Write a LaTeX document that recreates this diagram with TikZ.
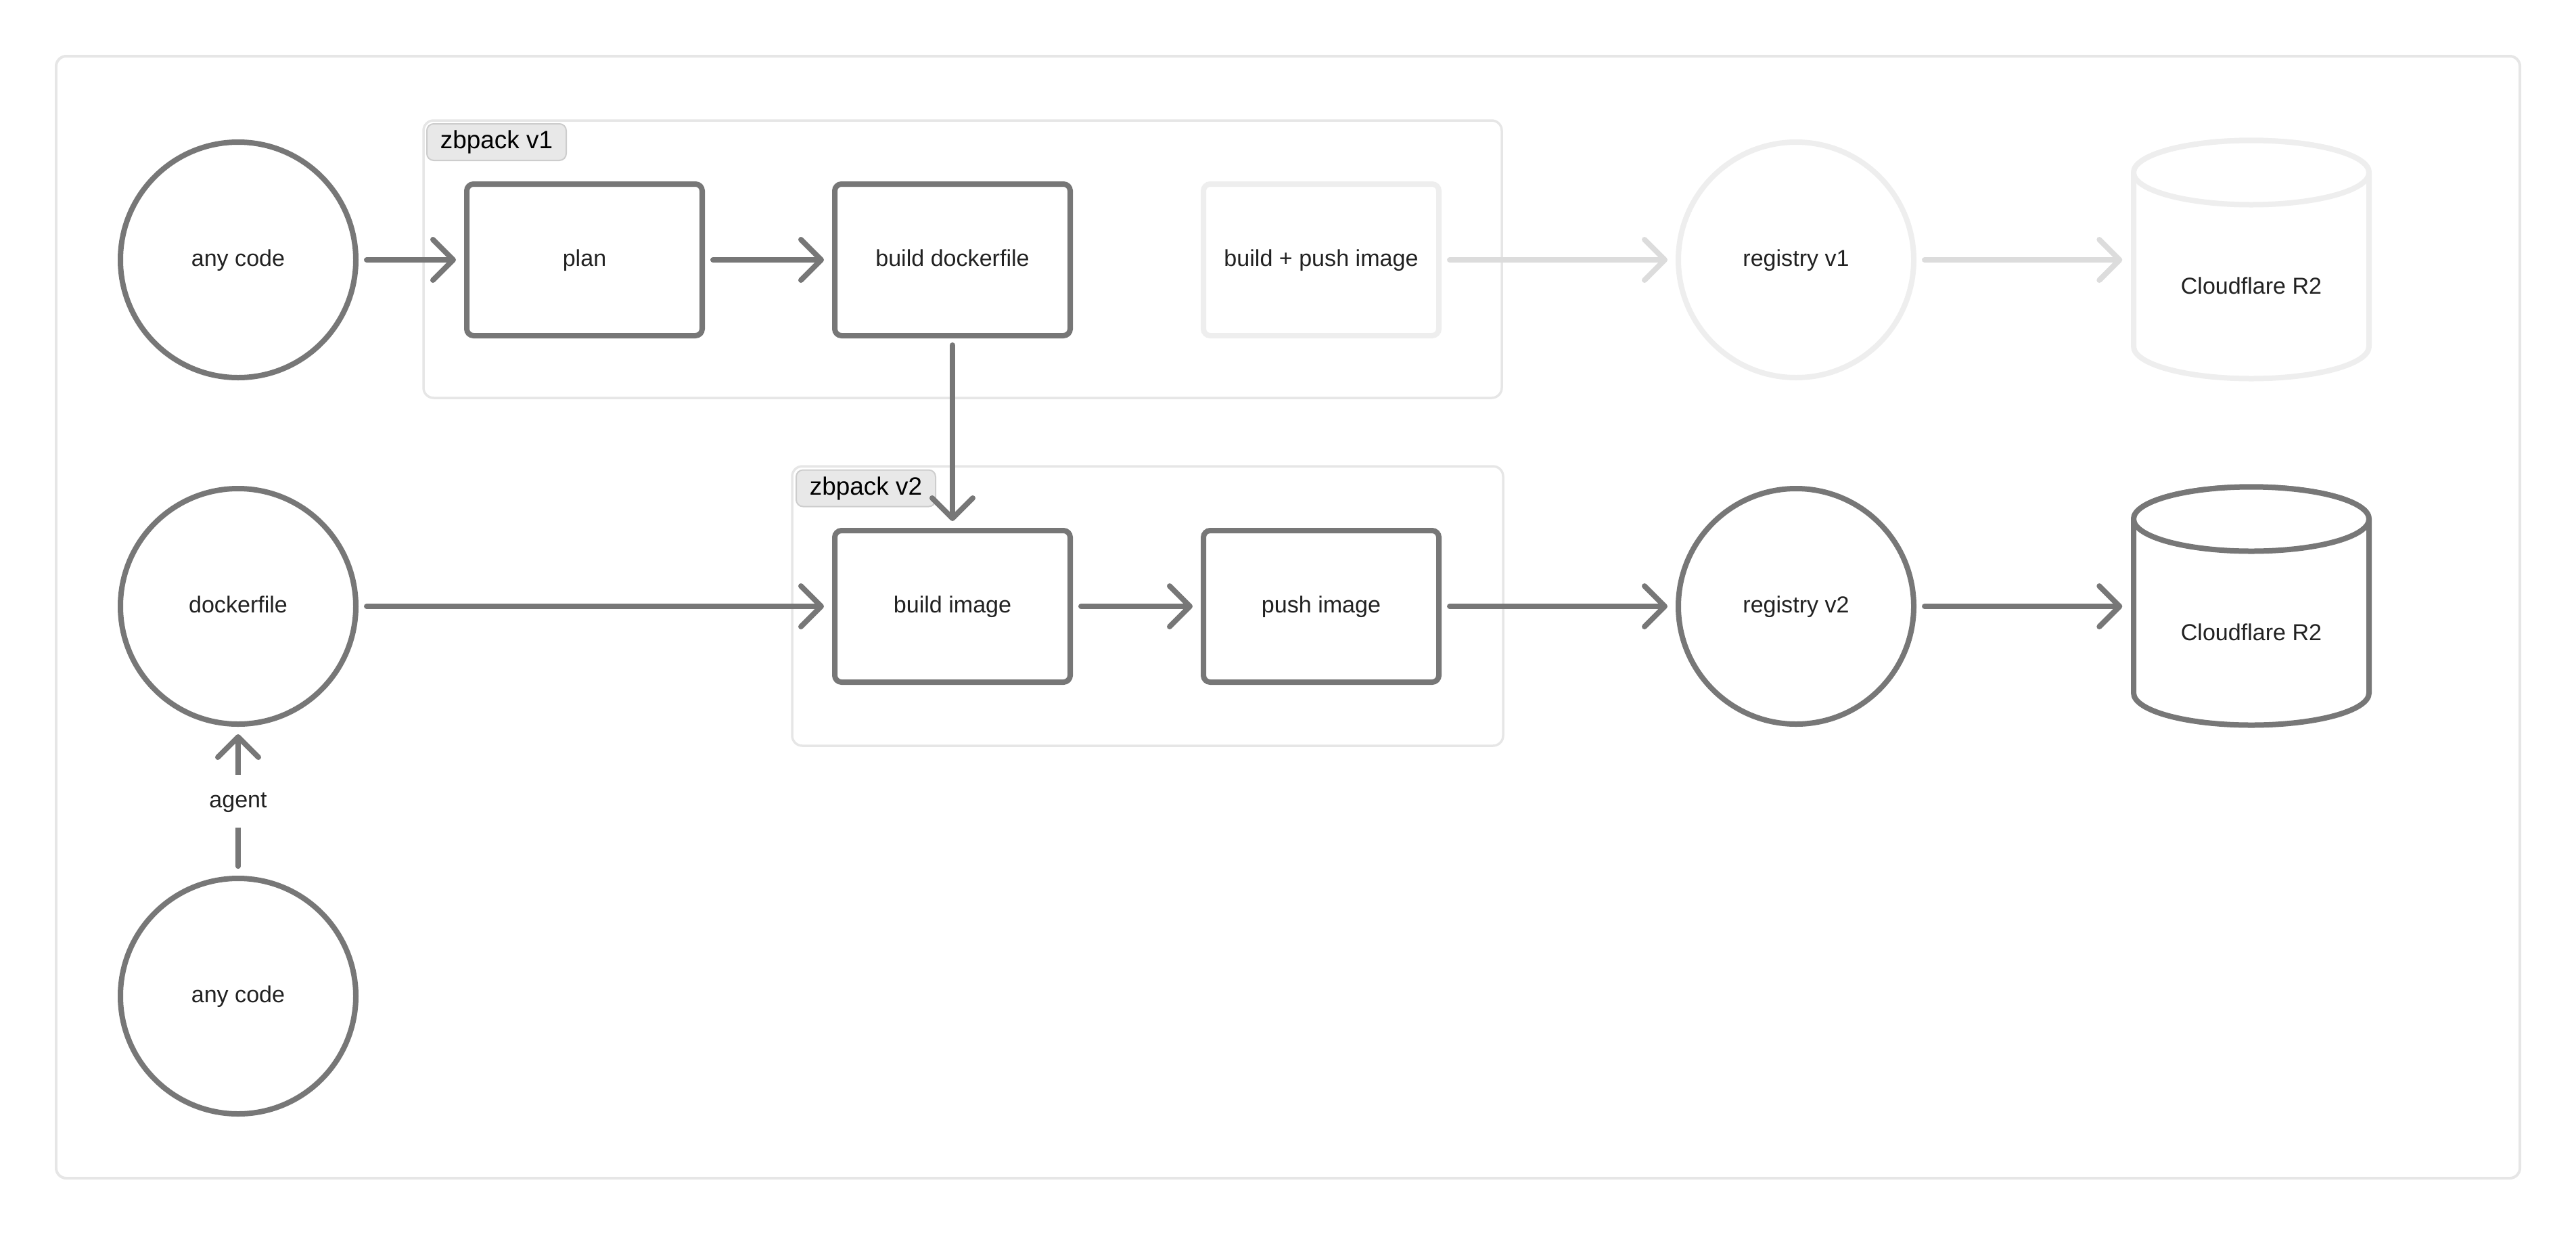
\documentclass[tikz,border=0pt]{standalone}
\usepackage{fontspec}
\setmainfont{Liberation Sans}
\usetikzlibrary{arrows.meta}
\definecolor{stroke}{HTML}{777777}
\definecolor{faint}{HTML}{EEEEEE}
\definecolor{faintarrow}{HTML}{DCDCDC}
\definecolor{framec}{HTML}{E6E6E6}
\definecolor{tagfill}{HTML}{E8E8E8}
\definecolor{tagdraw}{HTML}{CDCDCD}
\definecolor{txt}{HTML}{222222}
\begin{document}
\begin{tikzpicture}[
  font=\fontsize{9.7}{11}\selectfont, text=txt,
  vcenter/.style={text height=0.52em, text depth=0pt},
  circnode/.style={circle, draw=stroke, line width=0.08cm, minimum size=3.48cm, inner sep=0pt, fill=white, vcenter},
  boxnode/.style={rectangle, rounded corners=0.1cm, draw=stroke, line width=0.08cm, minimum width=3.48cm, minimum height=2.24cm, inner sep=0pt, fill=white, vcenter},
  cylnode/.style={rectangle, minimum width=3.56cm, minimum height=3.6cm, inner sep=0pt},
  cyl/.style={draw=stroke, line width=0.08cm, fill=white, line join=round},
  flow/.style={draw=stroke, line width=0.08cm, line cap=round,
    -{Straight Barb[length=0.3cm,width=0.6cm,line cap=round,line join=round]},
    shorten <=0.12cm, shorten >=0.12cm},
  faintflow/.style={flow, draw=faintarrow},
  groupbox/.style={rectangle, rounded corners=0.15cm, draw=framec, line width=0.035cm},
  tagbox/.style={rectangle, rounded corners=0.1cm, draw=tagdraw, line width=0.02cm, fill=tagfill,
    minimum width=2.06cm, minimum height=0.54cm, inner sep=0pt, text=black, font=\fontsize{10.5}{12}\selectfont},
]
\useasboundingbox (0,0) rectangle (38.08,-18.24);

% outer frame
\node[rectangle, rounded corners=0.15cm, draw=framec, line width=0.04cm,
  minimum width=36.42cm, minimum height=16.58cm] (frame) at (19.04,-9.12) {};

% groups
\node[groupbox, minimum width=15.94cm, minimum height=4.10cm] (g1) at (14.23,-3.83) {};
\node[groupbox, minimum width=10.51cm, minimum height=4.13cm] (g2) at (16.965,-8.955) {};
\node[tagbox] (t1) at (7.34,-2.10) {zbpack v1};
\node[tagbox] (t2) at (12.80,-7.215) {zbpack v2};

% row 1
\node[circnode] (code1) at (3.52,-3.84) {any code};
\node[boxnode] (plan) at (8.64,-3.84) {plan};
\node[boxnode] (bdf) at (14.08,-3.84) {build dockerfile};
\node[boxnode, draw=faint] (bpi) at (19.53,-3.84) {build + push image};
\node[circnode, draw=faint] (reg1) at (26.55,-3.84) {registry v1};
\filldraw[cyl, draw=faint] (31.54,-2.55) -- (31.54,-5.12)
  arc[start angle=180, end angle=360, x radius=1.74cm, y radius=0.475cm]
  -- (35.02,-2.55)
  arc[start angle=0, end angle=180, x radius=1.74cm, y radius=0.475cm] -- cycle;
\draw[cyl, draw=faint] (33.28,-2.55) ellipse[x radius=1.74cm, y radius=0.475cm];
\node[cylnode] (r2a) at (33.28,-3.84) {};
\node[vcenter] (r2atext) at (33.28,-4.25) {Cloudflare R2};

% row 2
\node[circnode] (dock) at (3.52,-8.96) {dockerfile};
\node[boxnode] (bimg) at (14.08,-8.96) {build image};
\node[boxnode] (push) at (19.53,-8.96) {push image};
\node[circnode] (reg2) at (26.55,-8.96) {registry v2};
\filldraw[cyl] (31.54,-7.67) -- (31.54,-10.24)
  arc[start angle=180, end angle=360, x radius=1.74cm, y radius=0.475cm]
  -- (35.02,-7.67)
  arc[start angle=0, end angle=180, x radius=1.74cm, y radius=0.475cm] -- cycle;
\draw[cyl] (33.28,-7.67) ellipse[x radius=1.74cm, y radius=0.475cm];
\node[cylnode] (r2b) at (33.28,-8.96) {};
\node[vcenter] (r2btext) at (33.28,-9.37) {Cloudflare R2};

% row 3
\node[circnode] (code2) at (3.52,-14.72) {any code};

% connectors
\draw[flow] (code1) -- (plan);
\draw[flow] (plan) -- (bdf);
\draw[faintflow] (bpi) -- (reg1);
\draw[faintflow] (reg1) -- (r2a);
\draw[flow, shorten <=0.10cm, shorten >=0.10cm] (bdf) -- (bimg);
\draw[flow] (dock) -- (bimg);
\draw[flow] (bimg) -- (push);
\draw[flow] (push) -- (reg2);
\draw[flow] (reg2) -- (r2b);
\draw[flow, shorten <=0.14cm, shorten >=0.11cm] (code2) -- (dock)
  node[pos=0.5, fill=white, inner xsep=2pt, minimum height=0.78cm, inner ysep=0pt, vcenter] (agent) {agent};
\end{tikzpicture}
\end{document}
